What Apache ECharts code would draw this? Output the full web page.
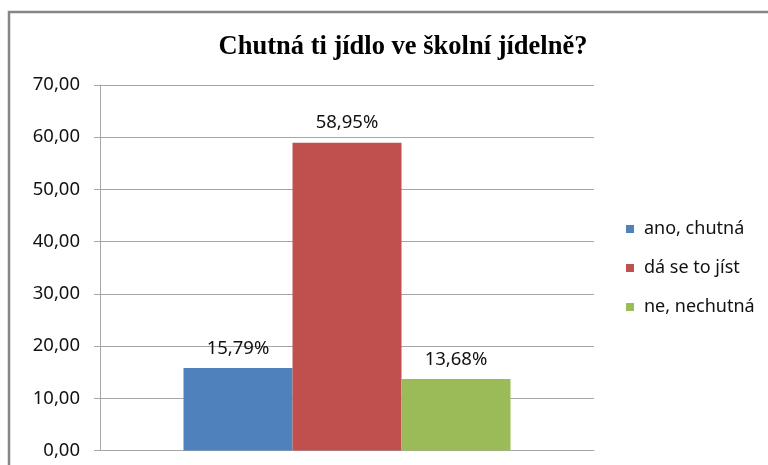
<!DOCTYPE html>
<html>
<head>
<meta charset="utf-8">
<script src="https://cdn.jsdelivr.net/npm/echarts@6/dist/echarts.min.js"></script>
<style>html,body{margin:0;padding:0;background:#fff;}#c{width:768px;height:465px;}</style>
</head>
<body>
<div id="c"></div>
<script>
const titleText = 'Chutná ti jídlo ve školní jídelně?';
const categories = [''];
const seriesNames = ['ano, chutná', 'dá se to jíst', 'ne, nechutná'];
const seriesValues = [15.79, 58.95, 13.68];
const seriesColors = ['#4F81BD', '#C0504D', '#9BBB59'];

const chart = echarts.init(document.getElementById('c'));
const fmt = v => v.toFixed(2).replace('.', ',');
chart.setOption({
  animation: false,
  backgroundColor: '#fff',
  title: {
    text: titleText, left: 398, top: 29, textAlign: 'center',
    textStyle: { fontFamily: 'Liberation Serif', fontWeight: 'bold', fontSize: 26.5, color: '#000' }
  },
  legend: {
    orient: 'vertical', left: 621, top: 214,
    itemWidth: 8, itemHeight: 8, itemGap: 19,
    icon: 'rect',
    textStyle: { fontFamily: 'Noto Sans', fontSize: 18, color: '#111', lineHeight: 20, padding: [0, 0, 0, 5] },
    data: seriesNames
  },
  grid: { left: 100, right: 174, top: 85, bottom: 14.5, containLabel: false },
  xAxis: {
    type: 'category', data: categories,
    axisLine: { show: true, lineStyle: { color: '#a6a6a6', width: 1 } },
    axisTick: { show: false }, axisLabel: { show: false }
  },
  yAxis: {
    type: 'value', min: 0, max: 70, interval: 10,
    axisLine: { show: true, lineStyle: { color: '#a6a6a6', width: 1 } },
    axisTick: { show: true, length: 6, lineStyle: { color: '#a6a6a6' } },
    splitLine: { show: true, lineStyle: { color: '#a6a6a6', width: 1 } },
    axisLabel: { formatter: fmt, margin: 20, fontFamily: 'Noto Sans', fontSize: 18.5, color: '#111' }
  },
  series: seriesNames.map((n, i) => ({
    name: n, type: 'bar', barWidth: 109, barGap: '0%',
    itemStyle: { color: seriesColors[i] },
    label: { show: true, position: 'top', distance: 10, formatter: p => fmt(p.value) + '%',
      fontFamily: 'Noto Sans', fontSize: 18.5, color: '#111' },
    data: categories.map(() => seriesValues[i])
  })),
  graphic: [{
    type: 'rect', shape: { x: 9, y: 12, width: 800, height: 500 },
    style: { fill: 'none', stroke: '#868686', lineWidth: 2.5 }, silent: true, z: 100
  }]
});
</script>
</body>
</html>
